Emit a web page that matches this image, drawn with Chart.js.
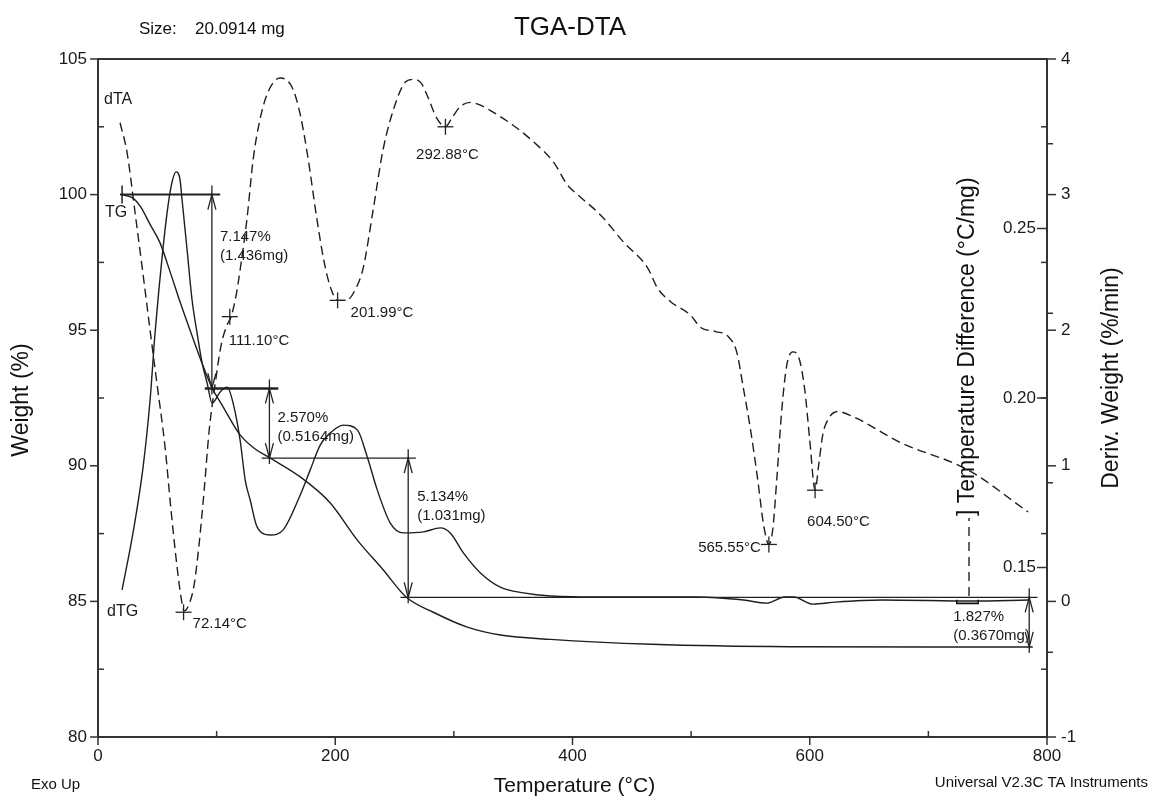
<!DOCTYPE html>
<html>
<head>
    <title>TGA-DTA</title>
    <style type="text/css">
        body { margin: 0; background: #ffffff; }
        canvas { display: block; }
    </style>
    <script src="https://cdn.jsdelivr.net/npm/chart.js@4/dist/chart.umd.min.js"></script>
</head>
<body>
    <canvas id="Chart" width="1150" height="798"></canvas>
    <script>
        // TG curve: temperature (°C) and weight (%)
        var tgTemp = [20.3, 29.5, 36, 43.9, 52.3, 60.8, 69.2, 77.6, 86.1, 96.2, 104.6, 119.8, 132.5, 145,
                      170.5, 195.8, 218.6, 240.5, 260, 282.7, 311.4, 339.2, 381.4, 466.7, 583, 700, 788];
        var tgWeight = [100.0, 99.87, 99.55, 98.9, 98.22, 97.15, 96.04, 95.0, 93.97, 92.87, 92.24, 91.14, 90.62, 90.29,
                        89.59, 88.63, 87.26, 86.16, 85.15, 84.6, 84.05, 83.76, 83.6, 83.42, 83.33, 83.32, 83.32];

        // dTG curve: temperature (°C) and derivative weight (%/min)
        var dtgTemp = [20.3, 29.5, 38, 43.9, 48.1, 54.9, 59.1, 62.4, 65.8, 69.2, 70.9, 75.1, 79.3, 83.5, 87.8,
                       92, 96.2, 103, 108.9, 113.9, 119.8, 124.1, 128.3, 134.2, 145.1, 156.1, 170.5, 178.9,
                       187.3, 195.8, 206.8, 218.6, 227, 235.4, 246.4, 257.4, 274.3, 288.6, 297, 308, 322.4,
                       339.2, 358.6, 381.4, 427.8, 505.5, 544.3, 563.7, 578.9, 586.5, 602.5, 621.9, 660.8,
                       737.6, 784];
        var dtgDeriv = [0.1434, 0.1602, 0.1796, 0.1994, 0.2192, 0.2445, 0.2569, 0.2637, 0.2667, 0.2643, 0.2584,
                        0.2437, 0.2289, 0.2192, 0.2103, 0.2044, 0.1985, 0.2018, 0.2032, 0.1985, 0.1876, 0.1758,
                        0.1699, 0.1619, 0.1596, 0.1611, 0.1714, 0.1788, 0.1861, 0.1897, 0.1920, 0.1906, 0.1826,
                        0.1729, 0.1631, 0.1602, 0.1605, 0.1617, 0.1602, 0.1543, 0.1484, 0.1442, 0.1425, 0.1416,
                        0.1413, 0.1413, 0.1404, 0.1395, 0.1413, 0.1413, 0.1392, 0.1398, 0.1404, 0.1401, 0.1404];

        // DTA curve: temperature (°C) and temperature difference (°C/mg)
        var dtaTemp = [18.6, 24.5, 31.2, 38, 43.9, 49.8, 56.5, 61.6, 66.7, 70, 72.6, 76.8, 81, 85.2, 89.5, 93.7,
                       98.7, 103.8, 108.9, 112.2, 116.5, 120.7, 125.7, 130.8, 136.7, 143.5, 153.6, 163.7, 170.5,
                       177.2, 184, 190.7, 196.6, 202.5, 209.3, 216.9, 223.6, 232, 240.5, 252.3, 259.1, 265.8,
                       272.6, 278.5, 285.2, 292.8, 298.7, 305.5, 314, 322.4, 330.8, 350.2, 367, 384, 395.8, 404.2,
                       423.6, 443, 463.3, 471.7, 482.7, 499.6, 508, 520.7, 531.6, 538.4, 544.3, 550.2, 556.1,
                       561.2, 565.5, 568.8, 572.2, 576.4, 580.6, 585.7, 590.7, 595.8, 600, 604.5, 607.6, 611,
                       616, 623.6, 637.1, 676.8, 733.3, 784];
        var dtaDiff = [3.53, 3.31, 2.87, 2.41, 2.00, 1.60, 1.14, 0.67, 0.25, 0.03, -0.07, -0.02, 0.12, 0.42, 0.82,
                       1.26, 1.60, 1.89, 2.04, 2.10, 2.26, 2.50, 2.83, 3.26, 3.56, 3.76, 3.86, 3.79, 3.59, 3.26,
                       2.85, 2.50, 2.30, 2.22, 2.22, 2.30, 2.46, 2.89, 3.34, 3.71, 3.83, 3.85, 3.82, 3.71, 3.57,
                       3.50, 3.57, 3.65, 3.68, 3.66, 3.62, 3.51, 3.39, 3.24, 3.07, 3.00, 2.85, 2.65, 2.46, 2.31,
                       2.21, 2.11, 2.02, 1.99, 1.95, 1.84, 1.56, 1.26, 0.90, 0.56, 0.42, 0.53, 0.90, 1.41, 1.74,
                       1.84, 1.80, 1.56, 1.19, 0.82, 1.01, 1.23, 1.35, 1.40, 1.36, 1.17, 0.97, 0.66];

        // axis ticks
        var xTicks = [0, 200, 400, 600, 800];
        var xMinor = [100, 300, 500, 700];
        var weightTicks = [80, 85, 90, 95, 100, 105];
        var weightMinor = [82.5, 87.5, 92.5, 97.5, 102.5];
        var diffTicks = [-1, 0, 1, 2, 3, 4];
        var diffMinor = [-0.5, 0.5, 1.5, 2.5, 3.5];
        var derivTicks = [0.15, 0.20, 0.25];
        var derivMinor = [0.125, 0.175, 0.225, 0.275];

        // weight-loss steps
        var stepLevels = [100, 92.853, 90.283, 85.149, 83.322];
        var stepArrowTemp = [96, 144.5, 261.5, 785];
        var stepLineFrom = [18.5, 90, 138, 255];
        var stepLineTo = [103, 152, 268, 792];
        var stepPercent = ['7.147%', '2.570%', '5.134%', '1.827%'];
        var stepMass = ['(1.436mg)', '(0.5164mg)', '(1.031mg)', '(0.3670mg)'];

        // DTA peak markers
        var peakTemps = [72.14, 111.10, 201.99, 292.88, 565.55, 604.50];
        var peakDiffs = [-0.08, 2.10, 2.22, 3.50, 0.42, 0.82];

        var FONT = '"Liberation Sans", Arial, sans-serif';

        function seg(ctx, x1, y1, x2, y2) {
            ctx.beginPath();
            ctx.moveTo(x1, y1);
            ctx.lineTo(x2, y2);
            ctx.stroke();
        }

        function pairs(xs, ys) {
            return xs.map(function(x, i) { return { x: x, y: ys[i] }; });
        }

        var decor = {
            id: 'decor',
            afterDatasetsDraw: function(chart) {
                var ctx = chart.ctx, a = chart.chartArea, s = chart.scales;
                var X = s.x, W = s.yW, D = s.yD, R = s.yR;
                ctx.save();
                ctx.strokeStyle = '#333';
                ctx.fillStyle = '#1a1a1a';

                // frame
                ctx.lineWidth = 2;
                ctx.strokeRect(a.left, a.top, a.right - a.left, a.bottom - a.top);

                // ticks
                ctx.lineWidth = 1.5;
                ctx.font = '17px ' + FONT;
                ctx.textBaseline = 'middle';
                ctx.textAlign = 'center';
                xTicks.forEach(function(v) {
                    var px = X.getPixelForValue(v);
                    seg(ctx, px, a.bottom, px, a.bottom + 8);
                    ctx.fillText(String(v), px, a.bottom + 19);
                });
                xMinor.forEach(function(v) {
                    var px = X.getPixelForValue(v);
                    seg(ctx, px, a.bottom, px, a.bottom - 6);
                });
                ctx.textAlign = 'right';
                weightTicks.forEach(function(v) {
                    var py = W.getPixelForValue(v);
                    seg(ctx, a.left - 8, py, a.left, py);
                    ctx.fillText(String(v), a.left - 11, py);
                });
                weightMinor.forEach(function(v) {
                    var py = W.getPixelForValue(v);
                    seg(ctx, a.left, py, a.left + 6, py);
                });
                ctx.textAlign = 'left';
                diffTicks.forEach(function(v) {
                    var py = D.getPixelForValue(v);
                    seg(ctx, a.right, py, a.right + 9, py);
                    ctx.fillText(String(v), a.right + 14, py);
                });
                diffMinor.forEach(function(v) {
                    var py = D.getPixelForValue(v);
                    seg(ctx, a.right - 6, py, a.right, py);
                });
                ctx.textAlign = 'right';
                derivTicks.forEach(function(v) {
                    var py = R.getPixelForValue(v);
                    seg(ctx, a.right - 10, py, a.right, py);
                    ctx.fillText(v.toFixed(2), a.right - 11, py);
                });
                derivMinor.forEach(function(v) {
                    var py = R.getPixelForValue(v);
                    seg(ctx, a.right, py, a.right + 6, py);
                });

                // weight-loss steps
                ctx.strokeStyle = '#222';
                var labelPos = [[8, 42], [8, 29], [9, 39], [-76, 20]];
                var lineW = [2, 2.5, 1.4, 1.4];
                for (var i = 0; i < stepArrowTemp.length; i++) {
                    var yTop = W.getPixelForValue(stepLevels[i]);
                    var yBot = W.getPixelForValue(stepLevels[i + 1]);
                    var ax = X.getPixelForValue(stepArrowTemp[i]);
                    ctx.lineWidth = lineW[i];
                    seg(ctx, X.getPixelForValue(stepLineFrom[i]), yTop, X.getPixelForValue(stepLineTo[i]), yTop);
                    ctx.lineWidth = 1.3;
                    seg(ctx, ax, yTop - 9, ax, yBot + 6);
                    ctx.beginPath();
                    ctx.moveTo(ax - 4, yTop + 15); ctx.lineTo(ax, yTop); ctx.lineTo(ax + 4, yTop + 15);
                    ctx.stroke();
                    ctx.beginPath();
                    ctx.moveTo(ax - 4, yBot - 15); ctx.lineTo(ax, yBot); ctx.lineTo(ax + 4, yBot - 15);
                    ctx.stroke();
                    ctx.font = '15px ' + FONT;
                    ctx.textAlign = 'left';
                    ctx.fillText(stepPercent[i], ax + labelPos[i][0], yTop + labelPos[i][1]);
                    ctx.fillText(stepMass[i], ax + labelPos[i][0], yTop + labelPos[i][1] + 19);
                }
                // TG start mark
                var sx = X.getPixelForValue(tgTemp[0]), sy = W.getPixelForValue(stepLevels[0]);
                ctx.lineWidth = 1.5;
                seg(ctx, sx, sy - 9, sx, sy + 9);

                // DTA peak markers
                var peakLab = [[9, 12, 'left'], [-1, 24, 'left'], [13, 12, 'left'],
                               [2, 28, 'center'], [-8, 3, 'right'], [-8, 32, 'left']];
                ctx.lineWidth = 1.3;
                peakTemps.forEach(function(t, i) {
                    var px = X.getPixelForValue(t), py = D.getPixelForValue(peakDiffs[i]);
                    seg(ctx, px - 8, py, px + 8, py);
                    seg(ctx, px, py - 8, px, py + 8);
                    ctx.textAlign = peakLab[i][2];
                    ctx.fillText(t.toFixed(2) + '°C', px + peakLab[i][0], py + peakLab[i][1]);
                });

                // curve names
                ctx.font = '16px ' + FONT;
                ctx.textAlign = 'left';
                ctx.fillText('dTA', 104, 100);
                ctx.fillText('TG', 105, 213);
                ctx.fillText('dTG', 107, 612);

                // titles
                ctx.fillStyle = '#111';
                ctx.textAlign = 'center';
                ctx.font = '26px ' + FONT;
                ctx.fillText('TGA-DTA', 570, 28);
                ctx.font = '17px ' + FONT;
                ctx.textAlign = 'left';
                ctx.fillText('Size:', 139, 29);
                ctx.fillText('20.0914 mg', 195, 29);
                ctx.font = '15px ' + FONT;
                ctx.fillText('Exo Up', 31, 785);
                ctx.textAlign = 'right';
                ctx.fillText('Universal V2.3C TA Instruments', 1148, 783);
                ctx.textAlign = 'center';
                ctx.font = '21px ' + FONT;
                ctx.fillText('Temperature (°C)', (a.left + a.right) / 2 + 2, 786);

                ctx.font = '23px ' + FONT;
                ctx.save();
                ctx.translate(22, 400);
                ctx.rotate(-Math.PI / 2);
                ctx.fillText('Weight (%)', 0, 0);
                ctx.restore();

                ctx.save();
                ctx.translate(1112, 378);
                ctx.rotate(-Math.PI / 2);
                ctx.fillText('Deriv. Weight (%/min)', 0, 0);
                ctx.restore();

                // temperature difference title with dashed line sample
                ctx.save();
                ctx.translate(968, 604);
                ctx.rotate(-Math.PI / 2);
                ctx.textAlign = 'left';
                ctx.fillText('[', -2, 0);
                ctx.lineWidth = 1.4;
                ctx.setLineDash([9, 6]);
                seg(ctx, 8, 1, 86, 1);
                ctx.setLineDash([]);
                ctx.fillText('] Temperature Difference (°C/mg)', 88, 0);
                ctx.restore();

                ctx.restore();
            }
        };

        var ctx = document.getElementById('Chart').getContext('2d');
        var chart = new Chart(ctx, {
            type: 'scatter',
            data: {
                datasets: [{
                    label: 'TG',
                    data: pairs(tgTemp, tgWeight),
                    yAxisID: 'yW',
                    showLine: true,
                    borderColor: '#1e1e1e',
                    borderWidth: 1.4,
                    pointRadius: 0,
                    cubicInterpolationMode: 'monotone'
                }, {
                    label: 'dTG',
                    data: pairs(dtgTemp, dtgDeriv),
                    yAxisID: 'yR',
                    showLine: true,
                    borderColor: '#1e1e1e',
                    borderWidth: 1.4,
                    pointRadius: 0,
                    cubicInterpolationMode: 'monotone'
                }, {
                    label: 'dTA',
                    data: pairs(dtaTemp, dtaDiff),
                    yAxisID: 'yD',
                    showLine: true,
                    borderColor: '#1e1e1e',
                    borderWidth: 1.4,
                    borderDash: [9, 5],
                    pointRadius: 0,
                    cubicInterpolationMode: 'monotone'
                }]
            },
            options: {
                responsive: false,
                animation: false,
                layout: { padding: { left: 98, right: 103, top: 59, bottom: 61 } },
                plugins: { legend: { display: false }, tooltip: { enabled: false } },
                scales: {
                    x: { type: 'linear', min: 0, max: 800, display: false },
                    yW: { type: 'linear', position: 'left', min: 80, max: 105, display: false },
                    yD: { type: 'linear', position: 'right', min: -1, max: 4, display: false },
                    yR: { type: 'linear', position: 'right', min: 0.1, max: 0.3, display: false }
                }
            },
            plugins: [decor]
        });
    </script>
</body>
</html>
